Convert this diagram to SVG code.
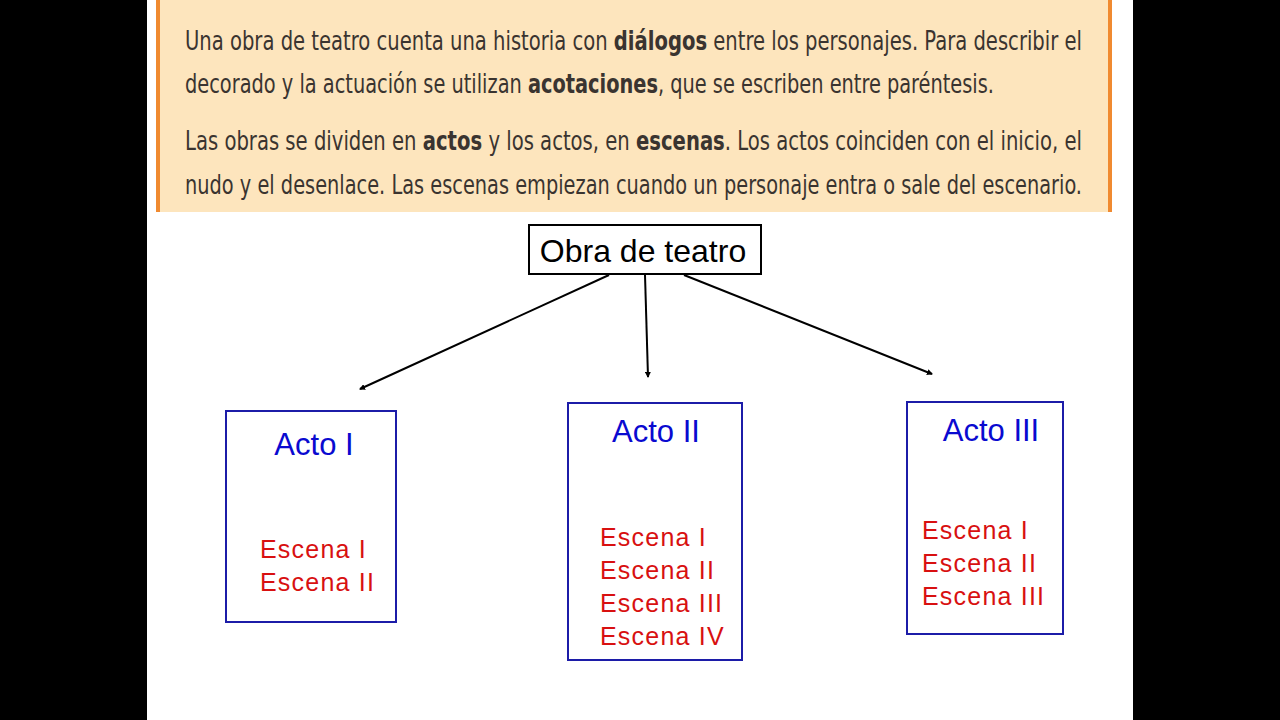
<svg xmlns="http://www.w3.org/2000/svg" width="1280" height="720" viewBox="0 0 1280 720">
<style>
.t{font-family:"DejaVu Sans Condensed","Liberation Sans",sans-serif;font-size:26px;fill:#3a3430}
.b{font-weight:bold}
.box{fill:#fff;stroke:#1c1ca8;stroke-width:2}
.h{font-family:"Liberation Sans",Arial,sans-serif;font-size:31px;fill:#0a0ad0}
.s{font-family:"Liberation Sans",Arial,sans-serif;font-size:25px;fill:#d81010;letter-spacing:1.2px}
.c{stroke:#000;stroke-width:2;fill:none;marker-end:url(#ah)}
</style>
<defs><marker id="ah" viewBox="0 0 6 6" refX="5" refY="3" markerWidth="3" markerHeight="3" orient="auto"><path d="M0,0L6,3L0,6z" fill="#000"/></marker></defs>
<rect width="1280" height="720" fill="#fff"/>
<rect x="0" y="0" width="147" height="720" fill="#000"/>
<rect x="1133" y="0" width="147" height="720" fill="#000"/>
<g id="banner">
<rect x="157" y="0" width="955" height="212" fill="#fde5bd"/>
<rect x="156" y="0" width="4" height="212" fill="#f08a30"/>
<rect x="1108" y="0" width="4" height="212" fill="#f08a30"/>
<text class="t" x="185" y="50" textLength="897" lengthAdjust="spacingAndGlyphs">Una obra de teatro cuenta una historia con <tspan class="b">diálogos</tspan> entre los personajes. Para describir el</text>
<text class="t" x="185" y="93" textLength="809" lengthAdjust="spacingAndGlyphs">decorado y la actuación se utilizan <tspan class="b">acotaciones</tspan>, que se escriben entre paréntesis.</text>
<text class="t" x="185" y="150" textLength="897" lengthAdjust="spacingAndGlyphs">Las obras se dividen en <tspan class="b">actos</tspan> y los actos, en <tspan class="b">escenas</tspan>. Los actos coinciden con el inicio, el</text>
<text class="t" x="185" y="194" textLength="897" lengthAdjust="spacingAndGlyphs">nudo y el desenlace. Las escenas empiezan cuando un personaje entra o sale del escenario.</text>
</g>
<g id="root">
<rect x="529" y="225" width="232" height="49" fill="#fff" stroke="#000" stroke-width="2"/>
<text x="643" y="262" text-anchor="middle" font-family="Liberation Sans,Arial,sans-serif" font-size="32">Obra de teatro</text>
</g>
<g id="connectors">
<line class="c" x1="609" y1="275" x2="360" y2="389"/>
<line class="c" x1="645" y1="275" x2="648" y2="377"/>
<line class="c" x1="684" y1="275" x2="932" y2="374"/>
</g>
<g id="acto1">
<rect class="box" x="226" y="411" width="170" height="211"/>
<text class="h" x="314" y="455" text-anchor="middle">Acto I</text>
<text class="s" x="260" y="558">Escena I</text>
<text class="s" x="260" y="591">Escena II</text>
</g>
<g id="acto2">
<rect class="box" x="568" y="403" width="174" height="257"/>
<text class="h" x="656" y="442" text-anchor="middle">Acto II</text>
<text class="s" x="600" y="546">Escena I</text>
<text class="s" x="600" y="579">Escena II</text>
<text class="s" x="600" y="612">Escena III</text>
<text class="s" x="600" y="645">Escena IV</text>
</g>
<g id="acto3">
<rect class="box" x="907" y="402" width="156" height="232"/>
<text class="h" x="991" y="441" text-anchor="middle">Acto III</text>
<text class="s" x="922" y="539">Escena I</text>
<text class="s" x="922" y="572">Escena II</text>
<text class="s" x="922" y="605">Escena III</text>
</g>
</svg>
